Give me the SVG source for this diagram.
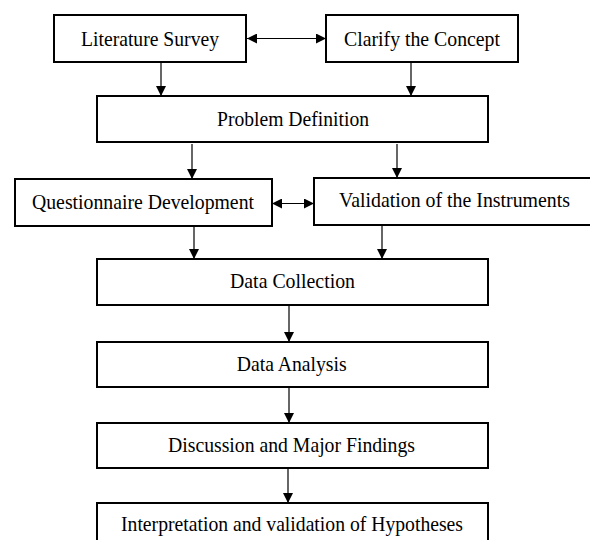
<svg xmlns="http://www.w3.org/2000/svg" width="590" height="540" viewBox="0 0 590 540">
<style>
.box{fill:#fff;stroke:#000;stroke-width:2}
.lbl{font-family:"Liberation Serif","Times New Roman",serif;font-size:22px;fill:#000;text-anchor:middle}
.conn{stroke:#000;stroke-width:1.2;fill:none;marker-end:url(#ah)}
.bi{marker-start:url(#ah)}
</style>
<defs>
<marker id="ah" viewBox="0 0 10 10" refX="10" refY="5" markerWidth="11" markerHeight="10" markerUnits="userSpaceOnUse" orient="auto-start-reverse">
<path d="M0,0 L10,5 L0,10 z" fill="#000"/>
</marker>
</defs>
<rect width="590" height="540" fill="#fff"/>
<g id="connectors">
<line class="conn bi" x1="247" y1="38.5" x2="326" y2="38.5"/>
<line class="conn" x1="161" y1="62" x2="161" y2="96"/>
<line class="conn" x1="411" y1="62" x2="411" y2="96"/>
<line class="conn" x1="192" y1="144" x2="192" y2="179"/>
<line class="conn" x1="397" y1="144" x2="397" y2="178"/>
<line class="conn bi" x1="272" y1="203.5" x2="314" y2="203.5"/>
<line class="conn" x1="194" y1="226" x2="194" y2="259"/>
<line class="conn" x1="382" y1="225" x2="382" y2="259"/>
<line class="conn" x1="289" y1="305" x2="289" y2="342"/>
<line class="conn" x1="289" y1="387" x2="289" y2="423"/>
<line class="conn" x1="288" y1="468" x2="288" y2="503"/>
</g>
<g id="literature-survey"><rect class="box" x="54" y="15" width="192" height="47"/><text class="lbl" x="150" y="45.5" textLength="138" lengthAdjust="spacingAndGlyphs">Literature Survey</text></g>
<g id="clarify-concept"><rect class="box" x="326" y="15" width="192" height="47"/><text class="lbl" x="422" y="45.5" textLength="156" lengthAdjust="spacingAndGlyphs">Clarify the Concept</text></g>
<g id="problem-definition"><rect class="box" x="97" y="96" width="391" height="46"/><text class="lbl" x="293" y="125.5" textLength="152" lengthAdjust="spacingAndGlyphs">Problem Definition</text></g>
<g id="questionnaire-development"><rect class="box" x="15" y="179" width="257" height="47"/><text class="lbl" x="143" y="208.5" textLength="222" lengthAdjust="spacingAndGlyphs">Questionnaire Development</text></g>
<g id="validation-instruments"><rect class="box" x="314" y="178" width="277" height="47"/><text class="lbl" x="454.5" y="206.5" textLength="231" lengthAdjust="spacingAndGlyphs">Validation of the Instruments</text></g>
<g id="data-collection"><rect class="box" x="97" y="259" width="391" height="46"/><text class="lbl" x="292.5" y="287.5" textLength="125" lengthAdjust="spacingAndGlyphs">Data Collection</text></g>
<g id="data-analysis"><rect class="box" x="97" y="342" width="391" height="45"/><text class="lbl" x="291.7" y="371" textLength="110" lengthAdjust="spacingAndGlyphs">Data Analysis</text></g>
<g id="discussion-findings"><rect class="box" x="97" y="423" width="391" height="45"/><text class="lbl" x="291.5" y="451.5" textLength="247" lengthAdjust="spacingAndGlyphs">Discussion and Major Findings</text></g>
<g id="interpretation-hypotheses"><rect class="box" x="97" y="503" width="391" height="50"/><text class="lbl" x="292" y="530.5" textLength="342" lengthAdjust="spacingAndGlyphs">Interpretation and validation of Hypotheses</text></g>
</svg>
